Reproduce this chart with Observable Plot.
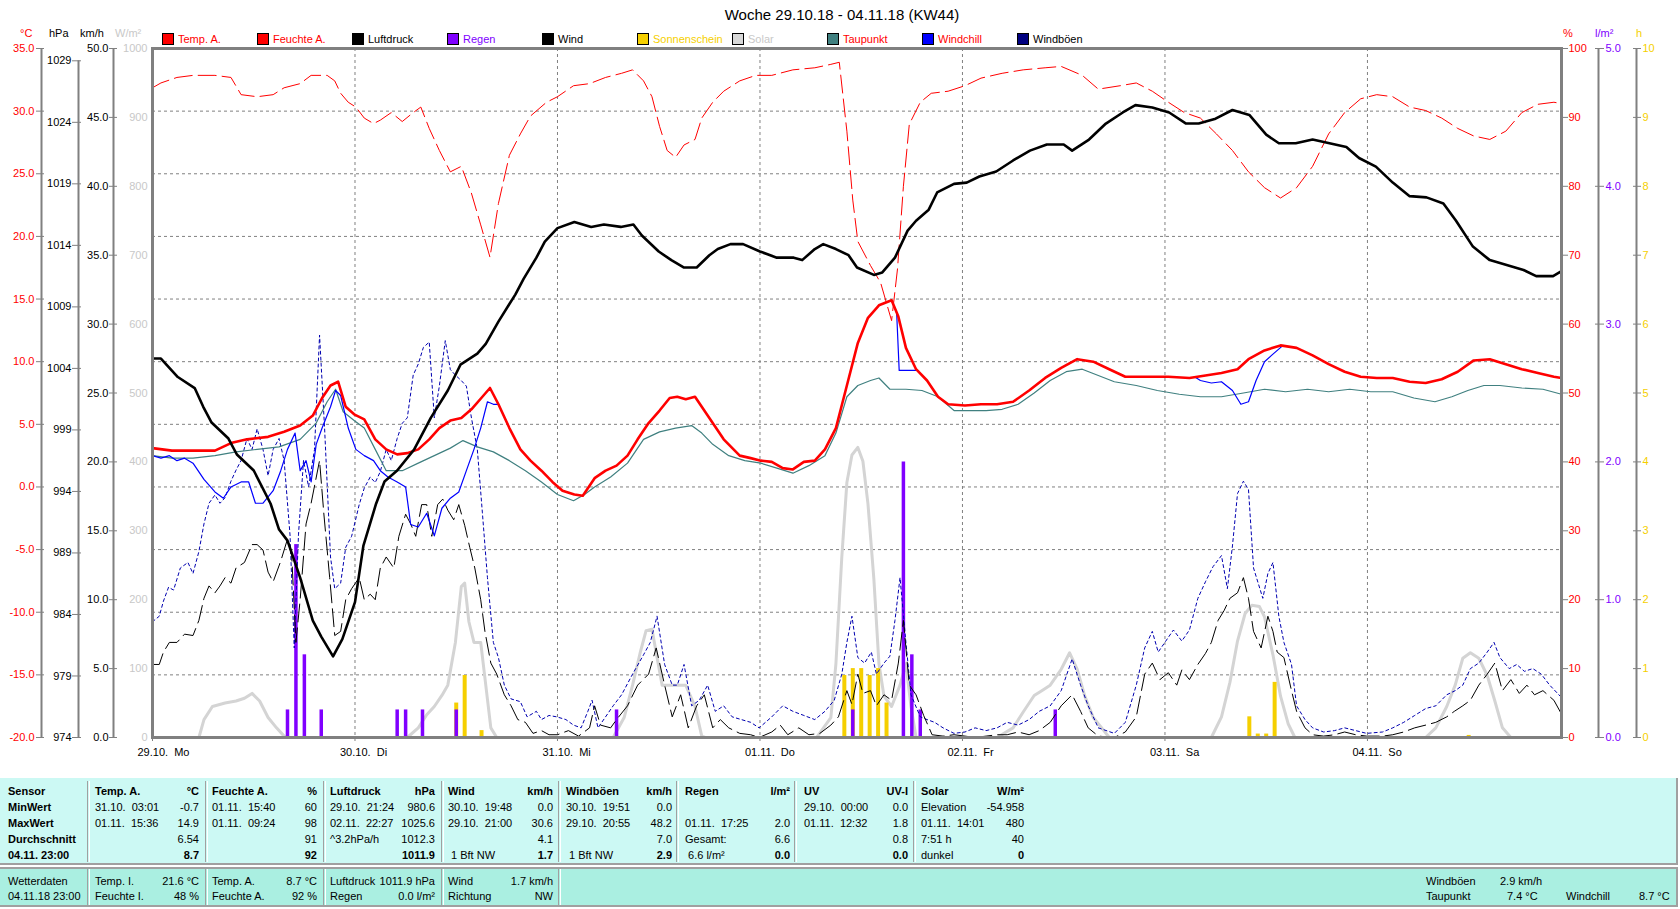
<!DOCTYPE html>
<html><head><meta charset="utf-8">
<script src="https://cdn.jsdelivr.net/npm/d3@7"></script>
<script src="https://cdn.jsdelivr.net/npm/@observablehq/plot@0.6"></script>
<style>
body{margin:0;background:#fff;font-family:"Liberation Sans",Arial,sans-serif;font-size:11px;}
#wrap{position:relative;width:1680px;height:909px;overflow:hidden;background:#fff}
.abs{position:absolute;white-space:pre;line-height:14px}
#wrap svg{position:absolute;left:0;top:0}
</style></head><body><div id="wrap"></div>
<script>
// ---------------- data (hour since 29.10. 00:00, value) ----------------
const luftdruck = [[0,1004.8],[1,1004.8],[3,1003.3],[5,1002.4],[6,1000.9],[7,999.6],[9,998.3],[10,997.0],[12,995.7],[14,993.0],[15,990.9],[16,990.0],[17.5,987.0],[19,983.5],[20,982.2],[21.4,980.6],[22.5,982.0],[24,985.0],[25,989.6],[26.5,993.0],[27.5,994.8],[29,995.7],[31,997.4],[33,1000.0],[35,1002.2],[36.5,1004.3],[38.5,1005.2],[39.5,1006.0],[41,1007.8],[43,1010.0],[44,1011.3],[45.5,1013.0],[46.5,1014.3],[48,1015.4],[50,1015.9],[52,1015.5],[53.5,1015.7],[55.5,1015.5],[57,1015.7],[58,1014.8],[60,1013.5],[61.5,1012.8],[63,1012.2],[64.5,1012.2],[66,1013.2],[67,1013.7],[68.5,1014.1],[70,1014.1],[72,1013.5],[74,1013.0],[76,1013.0],[77,1012.8],[78.5,1013.7],[79.5,1014.1],[81,1013.7],[82.5,1013.2],[83.5,1012.2],[85.5,1011.6],[86.5,1011.8],[88,1013.0],[89.5,1015.2],[90.5,1016.0],[92,1016.9],[93,1018.3],[95,1019.0],[96.5,1019.1],[98,1019.6],[100,1020.0],[102,1020.9],[104,1021.7],[106,1022.2],[108,1022.2],[109,1021.7],[111,1022.6],[113,1023.9],[115,1024.8],[116.5,1025.4],[118.5,1025.2],[120.5,1024.8],[122.5,1023.9],[124,1023.9],[126,1024.3],[128,1025.0],[130,1024.6],[132,1023.0],[133.5,1022.3],[135.5,1022.3],[137.5,1022.6],[139.5,1022.3],[141.5,1022.0],[143,1021.1],[145,1020.4],[147,1019.1],[149,1018.0],[151,1017.9],[153,1017.4],[154.5,1016.0],[156.5,1013.9],[158.5,1012.8],[160.5,1012.4],[162.5,1012.0],[164,1011.5],[166,1011.5],[167,1011.9]];

const tempA = [[0,3.1],[2.3,2.9],[4.8,2.9],[7.4,2.9],[9.3,3.5],[11.2,3.8],[13.7,4.0],[15.6,4.4],[17.5,4.9],[19,5.7],[20.1,7.1],[21.1,8.1],[22,8.4],[22.9,6.4],[23.9,5.8],[25.1,5.4],[26.4,3.8],[27.7,3.0],[29,2.6],[30.2,2.7],[31.5,3.0],[32.8,3.8],[34,4.7],[35.3,5.3],[36.6,5.5],[37.8,6.2],[39.1,7.2],[40,7.9],[41,6.6],[42.3,4.7],[43.6,3.0],[44.8,2.1],[46.1,1.3],[47.4,0.4],[48.6,-0.3],[50,-0.6],[51,-0.7],[52.4,0.7],[53.7,1.3],[55,1.7],[56.3,2.5],[57.5,3.8],[58.8,5.1],[60.1,6.1],[61.3,7.1],[62.2,7.2],[63.2,7.0],[64.3,7.2],[65.1,6.4],[66.4,5.1],[67.7,3.8],[69.6,2.5],[70.9,2.3],[72.1,2.1],[73.4,2.0],[74.7,1.5],[75.9,1.4],[77.2,2.0],[78.5,2.1],[79.7,3.0],[81,4.7],[82.3,8.1],[83.6,11.5],[84.8,13.5],[86.1,14.5],[87.6,14.9],[88.4,13.6],[89.3,11.1],[90.5,9.4],[91.8,8.5],[93.1,7.2],[94.3,6.6],[96.3,6.5],[98.2,6.6],[100.1,6.6],[102,6.8],[103.9,7.7],[105.8,8.7],[107.7,9.5],[109.6,10.2],[111.5,10.0],[113.4,9.4],[115.3,8.8],[117.8,8.8],[120.4,8.8],[122.9,8.7],[124.8,8.9],[126.7,9.1],[128.6,9.4],[129.9,10.2],[131.8,10.9],[133.7,11.3],[135.6,11.1],[137.5,10.5],[139.4,9.8],[141.3,9.2],[143.2,8.8],[145.1,8.7],[147,8.7],[149,8.4],[150.9,8.3],[152.8,8.6],[154.7,9.2],[156.6,10.1],[158.5,10.2],[160.4,9.8],[162.3,9.4],[164.2,9.1],[166.1,8.8],[167,8.7]];

const taupunkt = [[0,2.5],[2.3,2.3],[4.8,2.3],[7.4,2.5],[9.9,2.8],[12.4,3.0],[15,3.2],[17.5,3.8],[19.4,5.1],[20.7,6.8],[21.7,7.8],[22.6,6.0],[23.9,5.3],[25.1,4.7],[26.4,3.0],[27.7,1.3],[29.6,1.3],[31.5,1.9],[33.4,2.5],[35.3,3.1],[36.8,3.7],[38.5,3.2],[40.4,2.8],[42.3,2.1],[44.2,1.3],[46.1,0.4],[48,-0.6],[49.9,-1.1],[51.2,-0.6],[52.4,0.0],[54.3,0.8],[56.3,1.9],[58.2,3.8],[60.1,4.4],[62,4.7],[63.9,4.9],[65.1,4.3],[66.4,3.4],[68.3,2.5],[70.2,2.1],[72.1,1.9],[74,1.5],[75.9,1.1],[77.8,1.7],[79.7,2.5],[81,4.3],[82.3,7.2],[83.6,8.1],[85.1,8.5],[86.1,8.7],[87.4,7.8],[89.3,7.8],[91.2,7.7],[93.1,7.2],[95,6.1],[96.9,6.1],[98.8,6.1],[100.7,6.2],[102.6,6.6],[104.5,7.5],[106.4,8.5],[108.3,9.2],[110.2,9.4],[112.1,8.9],[114,8.4],[116.6,8.1],[119.1,7.7],[121.7,7.4],[124.2,7.2],[126.7,7.2],[129.3,7.5],[131.8,7.8],[134.3,7.6],[136.9,7.8],[139.4,7.6],[141.9,7.8],[144.4,7.6],[147,7.6],[149.5,7.1],[152,6.8],[154,7.2],[155.9,7.7],[157.8,8.1],[159.7,8.1],[162.3,7.9],[164.8,7.8],[167,7.4]];

const feuchteA = [[0,94.3],[1,95.0],[2.9,95.8],[4.8,96.1],[7.4,96.1],[9.3,95.8],[10.5,93.3],[12.4,93.0],[14.3,93.3],[15.6,94.3],[17.5,94.9],[18.8,96.1],[20.7,96.1],[21.6,95.3],[22.3,93.5],[23.2,92.2],[24.1,91.5],[25.1,89.9],[26.2,89.1],[27,89.6],[28.3,90.7],[29.6,89.4],[30.9,90.7],[31.8,91.5],[32.8,88.4],[34,85.2],[35.3,82.1],[36.6,82.9],[37.8,79.0],[38.9,74.4],[40,69.7],[41,77.5],[42.3,84.5],[43.6,87.6],[44.8,90.2],[46.7,92.2],[48,93.0],[49.9,94.6],[51.8,94.9],[53.7,95.8],[55.6,96.4],[56.9,96.9],[58.2,95.3],[59.2,93.0],[60.1,88.7],[61,85.2],[62,84.2],[63,86.0],[64.3,86.8],[65.1,89.9],[66.4,92.2],[67.7,93.8],[69.6,95.3],[71.5,96.1],[73.4,96.1],[75.9,96.9],[78.5,97.2],[80.4,97.7],[81.4,98.0],[82.3,88],[83,78],[83.6,72],[85.1,68.5],[86.3,66],[87.6,60.5],[88.3,68],[89,80],[89.7,89],[91,92.2],[92.3,93.5],[94.3,93.8],[96.3,94.6],[98.2,95.7],[100.7,96.4],[103.2,96.9],[105.8,97.2],[107.7,97.4],[110.2,96.1],[112.1,94.1],[114.7,94.6],[116.6,95.0],[118.5,93.8],[120.4,92.2],[122.3,90.7],[124.2,89.9],[126.1,87.6],[128,85.2],[129.9,82.1],[131.8,79.8],[133.7,78.3],[135.6,79.8],[137.5,82.9],[139.4,87.6],[141.3,90.7],[143.2,92.7],[145.1,93.3],[147,93.0],[149,91.5],[150.9,91.0],[152.8,89.9],[154.7,88.4],[156.6,87.3],[158.5,86.8],[160.4,88.0],[162.3,90.7],[164.2,91.9],[166.1,92.2],[167,92]];

// windchill where it departs from the temperature curve
const windchillA = [[0,2.5],[1,2.3],[2,2.5],[2.9,2.1],[3.8,2.3],[4.8,1.9],[6.1,0.6],[7.4,-0.4],[8.4,-0.9],[9.3,0.0],[10.5,0.4],[11.4,0.4],[12.2,-1.3],[13.1,-1.3],[14.3,-0.3],[15.2,1.3],[16,3.0],[16.9,4.3],[17.5,1.3],[18.2,2.1],[18.8,0.4],[19.4,3.4],[20.1,4.7],[21.1,6.4],[21.7,7.7],[22.3,7.3],[23.2,4.7],[24.1,3.0],[25.1,2.5],[26.2,2.1],[27,1.3],[27.9,0.8],[29,0.4],[30,0.0],[30.6,-3.0],[31.5,-3.2],[32.5,-2.1],[33.4,-3.9],[34.3,-1.7],[35.3,-0.9],[36.3,-0.4],[37.2,1.3],[38.1,3.0],[38.9,4.7],[39.7,6.8],[40.4,6.6],[41,6.6],[42.3,4.7]];
const windchillB = [[87.6,14.9],[88.2,13.9],[88.5,9.3],[90.5,9.3]];
const windchillC = [[123.5,8.8],[124.2,8.5],[125.5,8.3],[126.7,8.4],[128,7.7],[129,6.6],[129.9,6.8],[130.8,8.5],[131.8,10.0],[132.8,10.6],[134,11.3]];

const wind = [[0,5.3],[0.8,5.3],[1.3,6.2],[2,6.9],[2.9,6.9],[3.8,7.5],[4.8,7.4],[5.5,8.5],[6.1,10.1],[6.7,11.0],[7.4,10.5],[8,11.0],[8.6,11.6],[9.3,11.2],[9.9,12.3],[10.9,12.7],[11.8,14.0],[12.4,14.0],[13.1,13.6],[13.7,12.0],[14.3,11.3],[15.2,12.8],[16,14.4],[16.5,13.2],[17,6.9],[17.5,10.0],[18.2,15.5],[18.8,17.0],[19.8,20.1],[20.3,16.3],[21,11.6],[21.6,7.4],[22.3,7.7],[22.9,10.0],[23.6,10.8],[24.5,11.6],[25.1,10.0],[25.8,10.4],[26.4,10.0],[27,12.3],[27.7,13.1],[28.6,12.3],[29.2,14.6],[30,16.2],[30.6,15.5],[31.2,14.6],[31.9,16.9],[32.5,16.9],[33.1,14.6],[33.8,16.9],[34.4,17.3],[35,16.5],[35.7,15.8],[36.3,16.9],[37,15.4],[37.6,13.8],[38.2,12.3],[38.9,10.0],[39.4,7.7],[40.1,5.4],[40.8,4.6],[41.7,3.1],[42.5,2.3],[43.3,1.3],[44.2,1.1],[45.1,0.3],[46.1,0.5],[47,0.2],[48,0.2],[49.3,0.5],[50.5,0.1],[51.8,0.7],[52.4,2.3],[53.1,0.9],[54.3,0.7],[55,1.3],[56.3,2.3],[57.5,3.8],[58.8,4.6],[59.7,6.5],[60.7,3.8],[61.6,1.5],[62.6,3.1],[63.5,0.7],[64.5,2.3],[65.4,3.1],[66.4,0.7],[67.3,1.3],[68.3,0.7],[69.6,0.3],[70.9,0.2],[71.9,0.0],[73.4,0.4],[74.4,0.9],[75.3,0.2],[76.6,0.7],[77.8,0.2],[79.1,0.3],[80.4,0.9],[81.3,1.5],[82.3,3.4],[82.9,2.4],[83.6,4.6],[84.2,3.2],[85.1,3.4],[85.8,2.3],[86.7,3.1],[87.6,2.7],[88.4,5.4],[89,8.5],[89.7,3.8],[90.5,3.1],[91.4,1.6],[92.4,0.2],[93.7,0.1],[95,0.2],[96.3,0.1],[97.5,0.0],[98.8,0.1],[100.1,0.2],[101.3,0.2],[102.6,0.4],[103.9,0.2],[105.1,0.5],[106.4,1.1],[107.7,2.3],[109,3.1],[110,1.9],[110.9,0.7],[112.1,0.1],[114,0.0],[115.3,0.4],[116.6,1.5],[117.6,4.6],[118.5,5.4],[119.4,4.2],[120.4,4.7],[121.4,3.8],[122,4.9],[122.9,4.2],[123.9,5.3],[124.8,6.1],[125.5,6.9],[126.3,8.5],[127,9.2],[127.7,10.1],[128.6,10.5],[129.3,11.6],[129.9,10.1],[130.5,7.7],[131.4,6.5],[132.2,8.8],[132.8,7.7],[133.3,6.2],[134.1,5.8],[135,3.4],[135.6,1.9],[136.6,0.7],[137.5,0.2],[138.8,0.1],[140.1,0.2],[141.3,0.4],[142.6,0.2],[143.9,0.1],[145.8,0.1],[147,0.2],[148.3,0.4],[149.6,0.7],[150.9,0.9],[152.1,1.1],[153.4,1.5],[154.3,1.9],[155.3,2.3],[156.2,2.7],[157.2,3.8],[158.2,4.6],[159.1,5.4],[160,3.4],[161,4.2],[162,3.2],[162.9,3.8],[163.8,3.1],[164.8,3.4],[166.1,2.7],[167,1.7]];

const windboeen = [[0,8.4],[0.8,8.8],[1.3,9.9],[1.9,10.9],[2.5,10.7],[3.3,12.3],[4.2,12.7],[4.8,11.9],[5.5,13.5],[6.1,15.5],[6.7,17.0],[7.4,17.6],[8,17.0],[8.6,17.4],[9.3,18.6],[9.9,19.4],[10.5,20.1],[11.2,21.7],[11.8,20.9],[12.4,22.4],[13.1,20.9],[13.7,19.0],[14.3,20.9],[15,21.7],[15.6,20.1],[16.3,14.7],[16.8,6.5],[17.3,14.7],[17.9,20.1],[18.5,18.2],[19.2,20.9],[19.8,29.2],[20.4,22.4],[21.1,13.1],[21.6,10.8],[22.3,11.2],[22.9,13.8],[23.6,14.6],[24.5,16.9],[25.1,18.1],[25.8,18.9],[26.4,18.5],[27,19.3],[27.7,20.9],[28.3,20.1],[29,21.7],[29.6,22.8],[30.2,23.2],[30.9,26.3],[31.5,27.1],[32.1,28.3],[32.8,28.7],[33.4,23.2],[34,25.5],[34.7,28.8],[35.3,26.7],[35.9,26.3],[36.6,25.9],[37.2,25.5],[37.8,23.2],[38.5,20.9],[39.1,16.3],[39.7,11.6],[40.4,6.9],[41,5.8],[41.7,3.8],[42.5,2.8],[43.6,2.6],[44.4,1.5],[45.5,1.9],[46.1,1.3],[47,1.6],[47.9,1.5],[49,1.3],[49.9,0.9],[50.8,0.7],[51.6,1.9],[52.1,2.7],[52.8,0.7],[53.7,1.5],[54.6,2.3],[55.6,3.1],[56.9,4.6],[58.2,6.0],[59,6.9],[59.8,8.8],[60.7,5.3],[61.6,3.8],[62.2,3.8],[63,5.3],[63.9,2.3],[64.8,2.7],[65.8,3.8],[66.7,1.9],[67.7,2.3],[68.7,1.5],[69.8,1.3],[70.9,1.1],[71.9,0.7],[73.4,1.5],[74.7,2.3],[75.9,1.9],[77.2,1.6],[78.5,1.3],[79.7,1.9],[80.8,2.7],[81.7,4.6],[82.3,6.9],[82.9,8.8],[83.6,5.8],[84.4,5.4],[85.2,6.2],[85.8,4.6],[86.7,5.4],[87.4,5.9],[88,8.5],[88.6,11.6],[89.3,6.9],[89.9,3.1],[91,1.5],[91.8,1.3],[92.7,1.1],[93.7,0.7],[95,0.3],[96.3,0.4],[97.5,0.7],[98.8,0.5],[100.1,0.7],[101.3,1.1],[102.6,0.9],[103.9,1.3],[105.1,1.9],[106.4,2.3],[107.7,3.4],[109,5.7],[110,3.8],[110.9,2.3],[112.1,0.7],[114,0.3],[115.3,1.1],[116.6,3.8],[117.6,6.5],[118.5,7.7],[119.2,6.2],[120.1,7.0],[121,7.8],[122,7.0],[122.9,7.8],[123.9,10.1],[124.8,11.3],[125.7,12.4],[126.7,13.2],[127.4,10.8],[128,13.9],[128.6,17.7],[129.3,18.6],[129.9,18.0],[130.5,12.3],[131.6,10.1],[132.2,11.9],[132.8,12.7],[133.5,8.8],[134.1,6.9],[135,5.3],[135.6,2.3],[136.6,1.3],[137.5,0.7],[138.8,0.4],[140.1,0.5],[141.3,0.7],[142.6,0.5],[143.9,0.3],[145.8,0.4],[147,0.7],[148.3,1.1],[149.6,1.6],[150.9,2.1],[152.1,2.3],[153.4,3.1],[154.4,3.4],[155.3,3.8],[156.2,5.0],[157.2,5.4],[158.2,6.2],[159,6.9],[159.7,5.8],[160.8,5.0],[161.7,5.3],[162.6,4.8],[163.6,5.0],[164.6,4.6],[165.6,3.8],[167,2.9]];

const solar = [[0,0],[5.5,0],[6.1,26],[7.1,45],[8.6,50],[9.9,53],[10.9,57],[11.8,64],[12.7,53],[13.7,29],[14.7,14],[15.6,2],[16,0],[30.2,0],[31.5,14],[32.5,33],[33.4,45],[34.3,61],[35,76],[35.9,138],[36.6,219],[37,224],[37.5,168],[38.1,138],[38.9,138],[39.5,76],[40.1,14],[40.8,0],[54.6,0],[55.9,29],[56.9,76],[57.8,123],[58.5,155],[59.2,157],[59.7,123],[60.4,76],[61.3,76],[63.2,76],[64.3,45],[65.1,2],[65.5,0],[78.7,0],[80.4,29],[81,107],[81.7,262],[82.3,370],[82.9,410],[83.6,421],[84.2,401],[84.8,339],[85.5,230],[86.1,107],[86.7,60],[87.6,45],[88.6,76],[89.3,107],[89.9,45],[90.5,0],[100.1,0],[102,14],[103.2,37],[104.5,61],[105.4,68],[106.4,76],[107.7,99],[108.7,123],[109.6,99],[110.5,60],[111.5,29],[112.5,14],[113.4,0],[125.5,0],[126.7,30],[127.7,80],[128.6,140],[129.5,180],[130.3,192],[131.2,190],[131.8,175],[132.8,120],[133.7,60],[134.6,20],[135.4,0],[150.9,0],[152.1,14],[153.4,45],[154.4,76],[155.3,115],[156.2,123],[157.2,115],[158.2,90],[159.1,53],[160,14],[161,0],[167,0]];

const regen = [[16,0.2],[17,1.4],[18,0.6],[20,0.2],[29,0.2],[30,0.2],[32,0.2],[36,0.2],[55,0.2],[83,0.2],[89,2.0],[90,0.6],[91,0.2],[107,0.2]];
const sonne = [[36,0.5],[37,0.9],[39,0.1],[82,0.9],[83,1.0],[84,1.0],[85,0.9],[86,1.0],[87,0.5],[130,0.3],[131,0.05],[132,0.05],[133,0.8],[156,0.03]];

const dayTicks = [0,24,48,72,96,120,144];
const dayLabels = ["29.10.","30.10.","31.10.","01.11.","02.11.","03.11.","04.11."];
const dayNames = ["Mo","Di","Mi","Do","Fr","Sa","So"];
const tempTicks = [-20,-15,-10,-5,0,5,10,15,20,25,30,35];
const hpaTicks = [974,979,984,989,994,999,1004,1009,1014,1019,1024,1029];
const kmhTicks = [0,5,10,15,20,25,30,35,40,45,50];
const wm2Ticks = [0,100,200,300,400,500,600,700,800,900,1000];
const pctTicks = [0,10,20,30,40,50,60,70,80,90,100];
const lm2Ticks = [0,1,2,3,4,5];
const hTicks = [0,1,2,3,4,5,6,7,8,9,10];

const legendNames = ["Temp. A.","Feuchte A.","Luftdruck","Regen","Wind","Sonnenschein","Solar","Taupunkt","Windchill","Windböen"];
const legendBox = ["#ff0000","#ff0000","#000000","#8000ff","#000000","#f5cf00","#d8d8d8","#408080","#0000ff","#000080"];
const legendText = ["#ff0000","#ff0000","#000000","#8000ff","#000000","#f5cf00","#c8c8c8","#ff0000","#ff0000","#000000"];

// ---------------- scales: each unit onto the shared 0..1 frame ----------------
const Y = {
  C: v => (v + 20) / 55,
  hPa: v => (v - 974) / 56,
  kmh: v => v / 50,
  Wm2: v => v / 1000,
  pct: v => v / 100,
  lm2: v => v / 5,
  h: v => v / 10
};
const hx = d => d[0];
const GRID = "#808080";
const RED = "#ff0000", PURPLE = "#8000ff", GOLD = "#f5cf00", LIGHT = "#c8c8c8";

const fmt1 = v => (Math.round(v * 10) / 10).toFixed(1);

const chart = Plot.plot({
  width: 1680, height: 770,
  marginLeft: 152, marginRight: 119, marginTop: 48, marginBottom: 33,
  x: {domain: [0, 167]},
  y: {domain: [0, 1]},
  style: {fontFamily: "'Liberation Sans', Arial, sans-serif", fontSize: "11px", background: "transparent", overflow: "visible"},
  marks: [
    // grid
    Plot.ruleX(dayTicks.slice(1), {x: d => d, stroke: GRID, strokeDasharray: "3,3"}),
    Plot.ruleY(tempTicks.slice(1, -1), {y: d => Y.C(d), stroke: GRID, strokeDasharray: "3,3"}),
    // solar
    Plot.line(solar, {x: hx, y: d => Y.Wm2(d[1]), stroke: "#d4d4d4", strokeWidth: 3}),
    // baseline rain markers
    Plot.dot(d3.range(0, 168), {x: d => d, y: 0, r: 1.4, fill: PURPLE, stroke: null}),
    // sunshine and rain bars
    Plot.ruleX(sonne, {x: hx, y1: 0, y2: d => Y.h(d[1]), stroke: GOLD, strokeWidth: 4}),
    Plot.ruleX(regen, {x: hx, y1: 0, y2: d => Y.lm2(d[1]), stroke: PURPLE, strokeWidth: 3.5}),
    // wind
    Plot.line(windboeen, {x: hx, y: d => Y.kmh(d[1]), stroke: "#0000b0", strokeWidth: 1, strokeDasharray: "3,3"}),
    Plot.line(wind, {x: hx, y: d => Y.kmh(d[1]), stroke: "#000", strokeWidth: 1, strokeDasharray: "18,6"}),
    // humidity
    Plot.line(feuchteA, {x: hx, y: d => Y.pct(d[1]), stroke: RED, strokeWidth: 1, strokeDasharray: "18,6"}),
    // dew point, windchill, temperature
    Plot.line(taupunkt, {x: hx, y: d => Y.C(d[1]), stroke: "#408080", strokeWidth: 1.2}),
    Plot.line(windchillA, {x: hx, y: d => Y.C(d[1]), stroke: "#0000ff", strokeWidth: 1.2}),
    Plot.line(windchillB, {x: hx, y: d => Y.C(d[1]), stroke: "#0000ff", strokeWidth: 1.2}),
    Plot.line(windchillC, {x: hx, y: d => Y.C(d[1]), stroke: "#0000ff", strokeWidth: 1.2}),
    Plot.line(tempA, {x: hx, y: d => Y.C(d[1]), stroke: RED, strokeWidth: 2.6}),
    // pressure
    Plot.line(luftdruck, {x: hx, y: d => Y.hPa(d[1]), stroke: "#000", strokeWidth: 2.6}),
    // axis lines
    Plot.ruleX([0], {x: d => d, dx: -111, y1: 0, y2: 1, stroke: GRID, strokeWidth: 2}),
    Plot.ruleX([0], {x: d => d, dx: -74, y1: 0, y2: Y.hPa(1029), stroke: GRID, strokeWidth: 2}),
    Plot.ruleX([0], {x: d => d, dx: -39, y1: 0, y2: 1, stroke: GRID, strokeWidth: 2}),
    Plot.ruleX([167], {x: d => d, dx: 37, y1: 0, y2: 1, stroke: GRID, strokeWidth: 2}),
    Plot.ruleX([167], {x: d => d, dx: 75, y1: 0, y2: 1, stroke: GRID, strokeWidth: 2}),
    // left axes
    Plot.axisY(tempTicks.map(Y.C), {anchor: "left", dx: -108, tickSize: 8, tickPadding: 2, label: null,
      tickFormat: t => fmt1(t * 55 - 20), stroke: GRID, fill: RED, fontSize: 11}),
    Plot.axisY(hpaTicks.map(Y.hPa), {anchor: "left", dx: -71, tickSize: 9, tickPadding: 1, label: null,
      tickFormat: t => String(Math.round(t * 56 + 974)), stroke: GRID, fill: "#000", fontSize: 11}),
    Plot.axisY(kmhTicks.map(Y.kmh), {anchor: "left", dx: -35, tickSize: 8, tickPadding: 1, label: null,
      tickFormat: t => fmt1(t * 50), stroke: GRID, fill: "#000", fontSize: 11}),
    Plot.axisY(wm2Ticks.map(Y.Wm2), {anchor: "left", dx: 0, tickSize: 0, tickPadding: 5, label: null,
      tickFormat: t => String(Math.round(t * 1000)), fill: LIGHT, fontSize: 11}),
    // right axes
    Plot.axisY(pctTicks.map(Y.pct), {anchor: "right", dx: 0, tickSize: 6, tickPadding: 1, label: null,
      tickFormat: t => String(Math.round(t * 100)), stroke: GRID, fill: RED, fontSize: 11}),
    Plot.axisY(lm2Ticks.map(Y.lm2), {anchor: "right", dx: 33, tickSize: 9, tickPadding: 2, label: null,
      tickFormat: t => fmt1(t * 5), stroke: GRID, fill: PURPLE, fontSize: 11}),
    Plot.axisY(hTicks.map(Y.h), {anchor: "right", dx: 71, tickSize: 8, tickPadding: 2, label: null,
      tickFormat: t => String(Math.round(t * 10)), stroke: GRID, fill: GOLD, fontSize: 11}),
    // x axis
    Plot.axisX(dayTicks, {tickSize: 4, tickFormat: () => "", stroke: GRID, label: null}),
    Plot.text(dayTicks, {x: d => d, y: 0, dy: 15, dx: -15, textAnchor: "start", fill: "#000", fontSize: 11,
      text: (d, i) => dayLabels[i] + "\u00a0\u00a0" + dayNames[i]}),
    Plot.frame({stroke: GRID, strokeWidth: 3})
  ]
});

const W = document.getElementById("wrap");
W.appendChild(chart);

// ---------------- HTML helpers for title, legend, tables ----------------
function put(x, y, s, o = {}) {
  const d = document.createElement("div");
  d.className = "abs";
  d.textContent = s;
  const st = d.style;
  st.top = (y - 7) + "px";
  st.fontSize = (o.size || 11) + "px";
  st.color = o.color || "#000";
  if (o.bold) st.fontWeight = "bold";
  if (o.align === "right") st.right = (1680 - x) + "px";
  else if (o.align === "center") { st.left = x + "px"; st.transform = "translateX(-50%)"; }
  else st.left = x + "px";
  W.appendChild(d);
  return d;
}
function rect(x, y, w, h, css) {
  const d = document.createElement("div");
  d.style.cssText = `position:absolute;left:${x}px;top:${y}px;width:${w}px;height:${h}px;box-sizing:border-box;${css}`;
  W.appendChild(d);
  return d;
}

// title
put(842, 15, "Woche 29.10.18 - 04.11.18 (KW44)", {align: "center", size: 15});

// unit labels
put(20, 33, "°C", {color: RED});
put(49, 33, "hPa");
put(80, 33, "km/h");
put(115, 33, "W/m²", {color: LIGHT});
put(1563, 33, "%", {color: RED});
put(1595, 33, "l/m²", {color: PURPLE});
put(1636, 33, "h", {color: GOLD});

// legend
legendNames.forEach((n, i) => {
  const x = 162 + 95 * i;
  rect(x, 33, 12, 12, `background:${legendBox[i]};border:1px solid #000;`);
  put(x + 16, 39, n, {color: legendText[i]});
});

// ---------------- tables ----------------
rect(0, 778, 1678, 87, "background:#ccf9f4;border-bottom:2px solid #a0a0a0;border-right:2px solid #a0a0a0;");
rect(0, 867, 1678, 40, "background:#aaefe1;border-top:2px solid #a0a0a0;border-bottom:2px solid #a0a0a0;border-right:2px solid #a0a0a0;");
[87, 205, 323, 441, 558, 676, 794, 913].forEach(x => rect(x, 781, 3, 81, "border-left:1px solid #a0a0a0;border-right:1px solid #fff;"));
[87, 205, 323, 441, 558].forEach(x => rect(x, 869, 3, 36, "border-left:1px solid #a0a0a0;border-right:1px solid #fff;"));

const rowsY = [791, 807, 823, 839, 855];
const sensorRows = ["Sensor", "MinWert", "MaxWert", "Durchschnitt", "04.11. 23:00"];
sensorRows.forEach((s, i) => put(8, rowsY[i], s, {bold: true}));

const cols = [
  {l: 95, r: 199, left: ["Temp. A.", "31.10.  03:01", "01.11.  15:36", "", ""], right: ["°C", "-0.7", "14.9", "6.54", "8.7"]},
  {l: 212, r: 317, left: ["Feuchte A.", "01.11.  15:40", "01.11.  09:24", "", ""], right: ["%", "60", "98", "91", "92"]},
  {l: 330, r: 435, left: ["Luftdruck", "29.10.  21:24", "02.11.  22:27", "^3.2hPa/h", ""], right: ["hPa", "980.6", "1025.6", "1012.3", "1011.9"]},
  {l: 448, r: 553, left: ["Wind", "30.10.  19:48", "29.10.  21:00", "", " 1 Bft NW"], right: ["km/h", "0.0", "30.6", "4.1", "1.7"]},
  {l: 566, r: 672, left: ["Windböen", "30.10.  19:51", "29.10.  20:55", "", " 1 Bft NW"], right: ["km/h", "0.0", "48.2", "7.0", "2.9"]},
  {l: 685, r: 790, left: ["Regen", "", "01.11.  17:25", "Gesamt:", " 6.6 l/m²"], right: ["l/m²", "", "2.0", "6.6", "0.0"]},
  {l: 804, r: 908, left: ["UV", "29.10.  00:00", "01.11.  12:32", "", ""], right: ["UV-I", "0.0", "1.8", "0.8", "0.0"]},
  {l: 921, r: 1024, left: ["Solar", "Elevation", "01.11.  14:01", "7:51 h", "dunkel"], right: ["W/m²", "-54.958", "480", "40", "0"]}
];
cols.forEach(c => {
  c.left.forEach((s, i) => { if (s) put(c.l, rowsY[i], s, {bold: i === 0}); });
  c.right.forEach((s, i) => { if (s) put(c.r, rowsY[i], s, {align: "right", bold: i === 0 || i === 4}); });
});

const r2 = [881, 896];
put(8, r2[0], "Wetterdaten"); put(8, r2[1], "04.11.18 23:00");
const cols2 = [
  {l: 95, r: 199, left: ["Temp. I.", "Feuchte I."], right: ["21.6 °C", "48 %"]},
  {l: 212, r: 317, left: ["Temp. A.", "Feuchte A."], right: ["8.7 °C", "92 %"]},
  {l: 330, r: 435, left: ["Luftdruck", "Regen"], right: ["1011.9 hPa", "0.0 l/m²"]},
  {l: 448, r: 553, left: ["Wind", "Richtung"], right: ["1.7 km/h", "NW"]}
];
cols2.forEach(c => {
  c.left.forEach((s, i) => put(c.l, r2[i], s));
  c.right.forEach((s, i) => put(c.r, r2[i], s, {align: "right"}));
});
put(1426, r2[0], "Windböen"); put(1500, r2[0], "2.9 km/h");
put(1426, r2[1], "Taupunkt"); put(1507, r2[1], "7.4 °C");
put(1566, r2[1], "Windchill"); put(1639, r2[1], "8.7 °C");
</script></body></html>
